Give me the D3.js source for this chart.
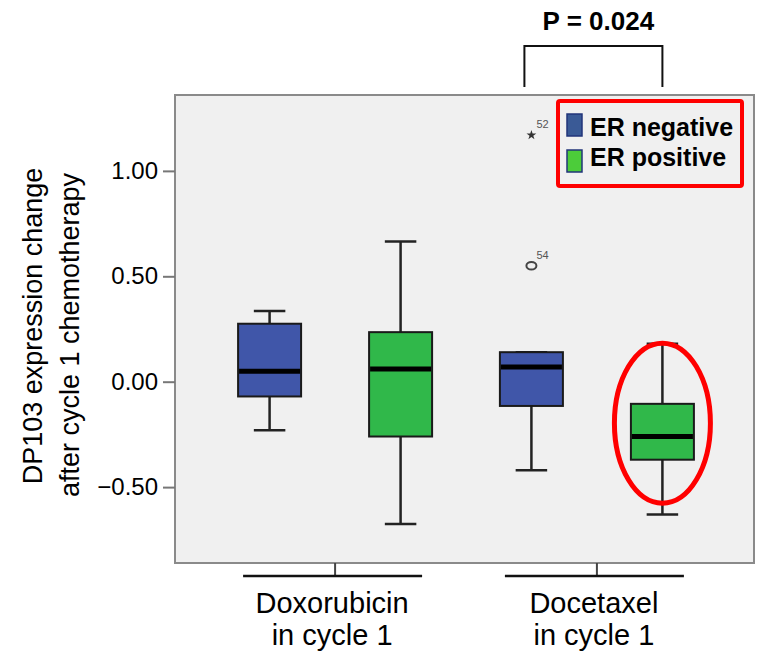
<!DOCTYPE html>
<html>
<head>
<meta charset="utf-8">
<script src="https://cdn.jsdelivr.net/npm/d3@7"></script>
<style>
  html, body { margin: 0; padding: 0; background: #fff; }
  svg text { font-family: Arial, "Liberation Sans", Helvetica, sans-serif; }
</style>
</head>
<body>
<svg id="chart" width="761" height="651"></svg>
<script>
// Box plot: DP103 expression change after cycle 1, by drug and ER status

const groups = ['Doxorubicin', 'Docetaxel'];
const groupLabels = [['Doxorubicin', 'in cycle 1'], ['Docetaxel', 'in cycle 1']];
const statuses = ['ER negative', 'ER positive'];
const statusColors = ['#4056a9', '#30b84a'];
const legendColors = ['#3a5a96', '#4ccc3a'];

// per box, order: Dox/neg, Dox/pos, Doc/neg, Doc/pos
const whiskerLow  = [-0.23, -0.675, -0.42, -0.63];
const q1          = [-0.07, -0.26, -0.115, -0.37];
const median      = [0.05, 0.06, 0.07, -0.26];
const q3          = [0.275, 0.235, 0.14, -0.105];
const whiskerHigh = [0.335, 0.665, 0.14, 0.18];

// outliers (Docetaxel, ER negative)
const outlierIds = ['52', '54'];
const outlierValues = [1.17, 0.55];
const outlierShapes = ['star', 'circle'];

const yTicks = [-0.5, 0, 0.5, 1.0];
const pLabel = 'P = 0.024';

const boxes = [];
groups.forEach((g, gi) => {
  statuses.forEach((s, si) => {
    const i = gi * 2 + si;
    boxes.push({
      group: g, status: s, si: si,
      lo: whiskerLow[i], q1: q1[i], med: median[i], q3: q3[i], hi: whiskerHigh[i]
    });
  });
});

const svg = d3.select('#chart');
const frame = { left: 175, right: 754, top: 95, bottom: 563 };
const boxW = 63;

const y = d3.scaleLinear().domain([-0.86, 1.36]).range([frame.bottom, frame.top]);
const x = d3.scalePoint().domain(groups).range([frame.left + 3, frame.right]).padding(0.6);
const xInner = d3.scalePoint().domain(statuses).range([-65.5, 65.5]);
const cx = d => x(d.group) + xInner(d.status);

// panel
svg.append('rect')
  .attr('x', frame.left).attr('y', frame.top)
  .attr('width', frame.right - frame.left).attr('height', frame.bottom - frame.top)
  .attr('fill', '#f0f0f0')
  .attr('stroke', '#8a8a8a')
  .attr('stroke-width', 2);

// y axis
const yAxis = d3.axisLeft(y).tickValues(yTicks).tickSize(12).tickPadding(5)
  .tickFormat(d3.format('.2f'));
const ya = svg.append('g').attr('transform', `translate(${frame.left},0)`).call(yAxis);
ya.select('.domain').remove();
ya.selectAll('.tick line').attr('stroke', '#777').attr('stroke-width', 2);
ya.selectAll('.tick text')
  .attr('fill', '#000')
  .style('font-size', '24px');

// y title
const yTitle = svg.append('text')
  .attr('transform', 'translate(42,326) rotate(-90)')
  .attr('text-anchor', 'middle')
  .style('font-size', '27px')
  .attr('fill', '#000');
yTitle.append('tspan').attr('x', 0).attr('dy', 0).text('DP103 expression change');
yTitle.append('tspan').attr('x', -9).attr('dy', 37).text('after cycle 1 chemotherapy');

// x axis (group ticks and spans)
const xa = svg.append('g');
groups.forEach((g, gi) => {
  const gx = x(g);
  xa.append('line')
    .attr('x1', gx).attr('x2', gx)
    .attr('y1', frame.bottom).attr('y2', frame.bottom + 13)
    .attr('stroke', '#444').attr('stroke-width', 2);
  xa.append('line')
    .attr('x1', gx - 92).attr('x2', gx + 87)
    .attr('y1', frame.bottom + 13).attr('y2', frame.bottom + 13)
    .attr('stroke', '#111').attr('stroke-width', 2.5);
  const t = xa.append('text')
    .attr('text-anchor', 'middle')
    .style('font-size', '29px')
    .attr('fill', '#000');
  groupLabels[gi].forEach((line, li) => {
    t.append('tspan').attr('x', gx - 3).attr('y', 613 + li * 32).text(line);
  });
});

// whiskers
const bx = svg.append('g');
bx.selectAll('line.whisker')
  .data(boxes)
  .join('line')
  .attr('class', 'whisker')
  .attr('x1', cx).attr('x2', cx)
  .attr('y1', d => y(d.hi)).attr('y2', d => y(d.lo))
  .attr('stroke', '#222').attr('stroke-width', 2.5);

['lo', 'hi'].forEach(k => {
  bx.selectAll('line.cap-' + k)
    .data(boxes)
    .join('line')
    .attr('class', 'cap-' + k)
    .attr('x1', d => cx(d) - boxW / 4).attr('x2', d => cx(d) + boxW / 4)
    .attr('y1', d => y(d[k])).attr('y2', d => y(d[k]))
    .attr('stroke', '#222').attr('stroke-width', 2.5);
});

// boxes
bx.selectAll('rect.box')
  .data(boxes)
  .join('rect')
  .attr('class', 'box')
  .attr('x', d => cx(d) - boxW / 2)
  .attr('y', d => y(d.q3))
  .attr('width', boxW)
  .attr('height', d => y(d.q1) - y(d.q3))
  .attr('fill', d => statusColors[d.si])
  .attr('stroke', '#1a1a1a')
  .attr('stroke-width', 2);

// medians
bx.selectAll('line.median')
  .data(boxes)
  .join('line')
  .attr('class', 'median')
  .attr('x1', d => cx(d) - boxW / 2 + 1).attr('x2', d => cx(d) + boxW / 2 - 1)
  .attr('y1', d => y(d.med)).attr('y2', d => y(d.med))
  .attr('stroke', '#000').attr('stroke-width', 5);

// outliers
const ox = x('Docetaxel') + xInner('ER negative');
outlierValues.forEach((v, i) => {
  if (outlierShapes[i] === 'star') {
    svg.append('path')
      .attr('d', d3.symbol(d3.symbolStar, 30)())
      .attr('transform', `translate(${ox},${y(v)})`)
      .attr('fill', '#333');
  } else {
    svg.append('ellipse')
      .attr('cx', ox).attr('cy', y(v))
      .attr('rx', 5).attr('ry', 3.8)
      .attr('fill', 'none')
      .attr('stroke', '#444').attr('stroke-width', 2);
  }
  svg.append('text')
    .attr('x', ox + 5).attr('y', y(v) - 7)
    .style('font-size', '11px')
    .attr('fill', '#555')
    .text(outlierIds[i]);
});

// red ellipse highlighting Docetaxel / ER positive
const hb = boxes[3];
svg.append('ellipse')
  .attr('cx', cx(hb)).attr('cy', (y(hb.hi) + y(hb.lo)) / 2 - 6)
  .attr('rx', 48).attr('ry', 80)
  .attr('fill', 'none')
  .attr('stroke', '#ff0000')
  .attr('stroke-width', 5);

// legend
const lg = svg.append('g');
lg.append('rect')
  .attr('x', 558).attr('y', 101).attr('width', 184).attr('height', 85)
  .attr('rx', 2)
  .attr('fill', 'none')
  .attr('stroke', '#ff0000')
  .attr('stroke-width', 4);
statuses.forEach((s, i) => {
  lg.append('rect')
    .attr('x', 567).attr('y', 114 + i * 36).attr('width', 15).attr('height', 22)
    .attr('fill', legendColors[i])
    .attr('stroke', '#22357a').attr('stroke-width', 1.5);
  lg.append('text')
    .attr('x', 590).attr('y', 136 + i * 30)
    .style('font-size', '25px').style('font-weight', 'bold')
    .attr('fill', '#000')
    .text(s);
});

// significance bracket
const bxL = cx(boxes[2]) - 7, bxR = cx(boxes[3]);
svg.append('path')
  .attr('d', `M${bxL},87 V46 H${bxR} V87`)
  .attr('fill', 'none')
  .attr('stroke', '#111')
  .attr('stroke-width', 2);
svg.append('text')
  .attr('x', (bxL + bxR) / 2 + 5).attr('y', 30)
  .attr('text-anchor', 'middle')
  .style('font-size', '26px').style('font-weight', 'bold')
  .attr('fill', '#000')
  .text(pLabel);
</script>
</body>
</html>
